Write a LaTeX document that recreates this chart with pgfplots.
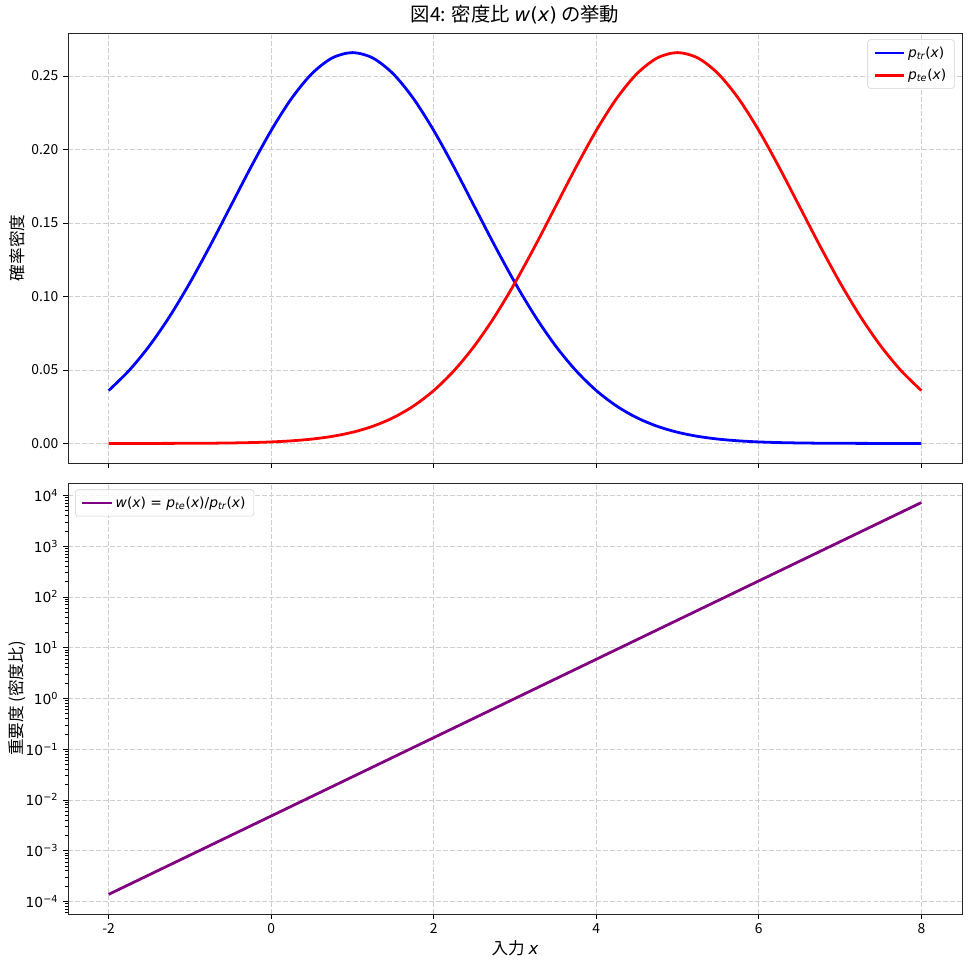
\documentclass[border=0pt]{standalone}
\usepackage{fontspec}
\usepackage{pgfplots}
\pgfplotsset{compat=1.18}
\setmainfont{Noto Sans CJK JP}
\newfontfamily\dv{DejaVu Sans}
\newcommand{\mi}[1]{{\dv\itshape #1}}
\newcommand{\sub}[1]{\textsubscript{\dv\itshape #1}}

\definecolor{gridgray}{HTML}{CFCFCF}
\definecolor{mplpurple}{HTML}{800080}

% densities on x = -2, -1.75, ..., 8
\pgfplotstableread{
x     ptr        pte
-2.00 0.035994   0.0000050
-1.75 0.049541   0.0000107
-1.50 0.066318   0.0000222
-1.25 0.086345   0.0000452
-1.00 0.109340   0.0000891
-0.75 0.134666   0.000171
-0.50 0.161314   0.000320
-0.25 0.187942   0.000582
0.00  0.212966   0.001028
0.25  0.234711   0.001767
0.50  0.251589   0.002955
0.75  0.262294   0.004804
1.00  0.265962   0.007597
1.25  0.262294   0.011686
1.50  0.251589   0.017477
1.75  0.234711   0.025435
2.00  0.212966   0.035994
2.25  0.187942   0.049541
2.50  0.161314   0.066318
2.75  0.134666   0.086345
3.00  0.109340   0.109340
3.25  0.086345   0.134666
3.50  0.066318   0.161314
3.75  0.049541   0.187942
4.00  0.035994   0.212966
4.25  0.025435   0.234711
4.50  0.017477   0.251589
4.75  0.011686   0.262294
5.00  0.007597   0.265962
5.25  0.004804   0.262294
5.50  0.002955   0.251589
5.75  0.001767   0.234711
6.00  0.001028   0.212966
6.25  0.000582   0.187942
6.50  0.000320   0.161314
6.75  0.000171   0.134666
7.00  0.0000891  0.109340
7.25  0.0000452  0.086345
7.50  0.0000222  0.066318
7.75  0.0000107  0.049541
8.00  0.0000050  0.035994
}\dens

\pgfplotstableread{
x   w
-2  0.00013791
-1  0.00081600
0   0.0048280
1   0.028565
2   0.16901
3   1.0
4   5.9167
5   35.008
6   207.13
7   1225.51
8   7250.95
}\ratio

\pgfplotsset{
  every axis/.append style={
    scale only axis,
    width=643.7bp,
    xmin=-2.5, xmax=8.5,
    xtick={-2,0,2,4,6,8},
    tick align=outside,
    xtick pos=bottom, ytick pos=left,
    major tick length=3.5bp, minor tick length=2bp,
    tick style={black, line width=0.6bp},
    axis line style={line width=0.6bp, black!85},
    grid=major,
    major grid style={gridgray, dash pattern=on 3.5bp off 1.5bp, line width=0.6bp},
    tick label style={font=\fontsize{10}{12}\selectfont},
    /pgf/number format/assume math mode=true,
    legend cell align=left,
    legend style={font=\dv\fontsize{10}{12}\selectfont, draw=gray!35, rounded corners=2bp,
      fill=white, fill opacity=0.8, text opacity=1, inner xsep=4bp, inner ysep=3bp,
      row sep=3bp},
    legend image code/.code={
      \draw[#1, line width=2bp] (0bp,0bp) -- (21bp,0bp);
    },
    label style={font=\fontsize{12}{14}\selectfont},
  },
}

\begin{document}
\begin{tikzpicture}
\begin{axis}[
  name=top,
  height=309.6bp,
  ymin=-0.0133, ymax=0.2793,
  ytick={0,0.05,0.10,0.15,0.20,0.25},
  yticklabel style={/pgf/number format/.cd, fixed, fixed zerofill, precision=2},
  xticklabels={},
  ylabel={確率密度},
  ylabel style={yshift=-2bp},
  title={図4: 密度比 \mi{w}{\dv(}\mi{x}{\dv)} の挙動},
  title style={font=\fontsize{14}{16}\selectfont, yshift=-3bp},
  legend pos=north east,
  legend style={at={(0.992,0.985)}},
]
\addplot[blue, line width=2bp, no marks, smooth] table[x=x, y=ptr] {\dens};
\addlegendentry{\mi{p}\sub{tr}(\mi{x})}
\addplot[red, line width=2bp, no marks, smooth] table[x=x, y=pte] {\dens};
\addlegendentry{\mi{p}\sub{te}(\mi{x})}
\end{axis}

\begin{axis}[
  name=bot,
  at={(top.south west)}, anchor=north west, yshift=-14.4bp,
  height=310.3bp,
  ymode=log, log basis y=10,
  ymin=5.68e-5, ymax=1.76e4,
  ytick={1e-4,1e-3,1e-2,1e-1,1,1e1,1e2,1e3,1e4},
  yticklabels={
    {\dv 10\textsuperscript{−4}},{\dv 10\textsuperscript{−3}},{\dv 10\textsuperscript{−2}},
    {\dv 10\textsuperscript{−1}},{\dv 10\textsuperscript{0}},{\dv 10\textsuperscript{1}},
    {\dv 10\textsuperscript{2}},{\dv 10\textsuperscript{3}},{\dv 10\textsuperscript{4}}},
  minor ytick={2e-5,3e-5,4e-5,5e-5,6e-5,7e-5,8e-5,9e-5,
    2e-4,3e-4,4e-4,5e-4,6e-4,7e-4,8e-4,9e-4,
    2e-3,3e-3,4e-3,5e-3,6e-3,7e-3,8e-3,9e-3,
    2e-2,3e-2,4e-2,5e-2,6e-2,7e-2,8e-2,9e-2,
    0.2,0.3,0.4,0.5,0.6,0.7,0.8,0.9,
    2,3,4,5,6,7,8,9,20,30,40,50,60,70,80,90,
    200,300,400,500,600,700,800,900,
    2000,3000,4000,5000,6000,7000,8000,9000},
  ylabel={重要度 (密度比)},
  ylabel style={yshift=-7bp},
  xlabel={入力 \mi{x}},
  xlabel style={yshift=2bp},
  legend pos=north west,
  legend style={at={(0.008,0.985)}},
]
\addplot[mplpurple, line width=2bp, no marks] table[x=x, y=w] {\ratio};
\addlegendentry{\mi{w}(\mi{x}) = \mi{p}\sub{te}(\mi{x})/\mi{p}\sub{tr}(\mi{x})}
\end{axis}

\path[use as bounding box]
  ([xshift=-48.96bp, yshift=23.76bp]top.north west)
  rectangle ([xshift=7.2bp, yshift=-39.6bp]bot.south east);
\end{tikzpicture}
\end{document}
